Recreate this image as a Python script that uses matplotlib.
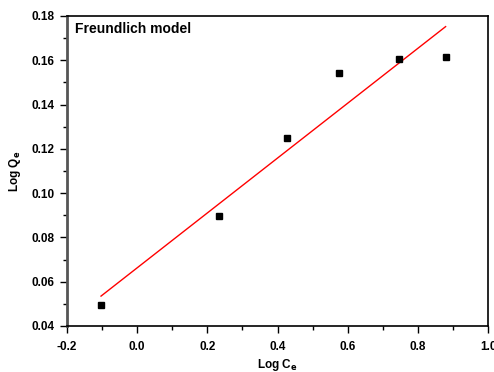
import matplotlib.pyplot as plt
from matplotlib.ticker import MultipleLocator

plt.rcParams['font.family'] = ['Liberation Sans', 'DejaVu Sans']

# experimental points
log_ce = [-0.103, 0.234, 0.427, 0.575, 0.746, 0.879]
log_qe = [0.0495, 0.0895, 0.1250, 0.1541, 0.1605, 0.1614]

# fitted line end points
fit_x = [-0.103, 0.879]
fit_y = [0.0535, 0.1752]

fig = plt.figure(figsize=(4.94, 3.72), dpi=100)
ax = fig.add_axes([0.1356, 0.1237, 0.8524, 0.8333])

ax.plot(fit_x, fit_y, color='red', lw=1.0)
ax.plot(log_ce, log_qe, 's', color='black', markersize=5)

ax.set_xlim(-0.2, 1.0)
ax.set_ylim(0.04, 0.18)
ax.xaxis.set_major_locator(MultipleLocator(0.2))
ax.xaxis.set_minor_locator(MultipleLocator(0.1))
ax.yaxis.set_major_locator(MultipleLocator(0.02))
ax.yaxis.set_minor_locator(MultipleLocator(0.01))
ax.xaxis.set_major_formatter(lambda v, p: f'{v:.1f}')
ax.yaxis.set_major_formatter(lambda v, p: f'{v:.2f}')

ax.tick_params(which='major', direction='out', length=5, width=1, labelsize=8.5)
ax.tick_params(axis='x', which='major', pad=6)
ax.tick_params(axis='y', which='major', pad=4)
ax.tick_params(which='minor', direction='out', length=3, width=1)
for lab in ax.get_xticklabels() + ax.get_yticklabels():
    lab.set_fontweight('bold')

ax.spines['left'].set_color('#555555')
ax.spines['left'].set_linewidth(2)
for s in ['top', 'right', 'bottom']:
    ax.spines[s].set_linewidth(1.2)
    ax.spines[s].set_color('black')

ax.text(0.019, 0.958, 'Freundlich model', transform=ax.transAxes,
        fontsize=10, fontweight='bold', va='center', ha='left')

ax.set_xlabel(r'Log C$_\mathbf{e}$', fontsize=8.5, fontweight='bold', labelpad=3)
ax.set_ylabel(r'Log Q$_\mathbf{e}$', fontsize=8.5, fontweight='bold', labelpad=6)

fig.savefig('out.png', dpi=100)
